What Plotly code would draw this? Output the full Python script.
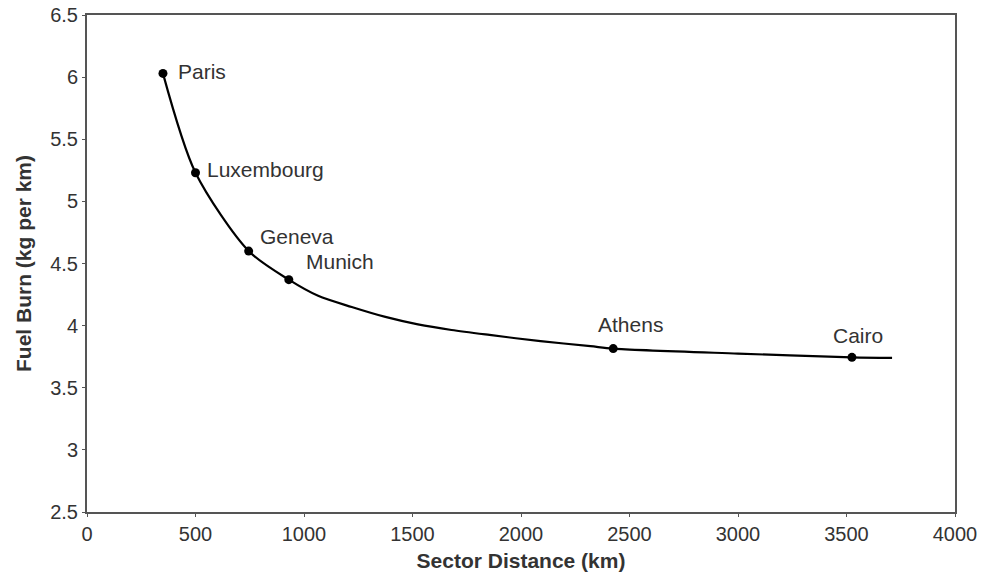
import plotly.graph_objects as go

# Airports (markers)
cities = ["Paris", "Luxembourg", "Geneva", "Munich", "Athens", "Cairo"]
distance_km = [350, 500, 745, 930, 2425, 3525]
fuel_burn = [6.03, 5.23, 4.60, 4.37, 3.815, 3.745]

# Fitted curve
curve_x = [350, 500, 745, 930, 1065, 1220, 1375, 1525, 1680, 1855, 2090, 2320, 2425, 3000, 3525, 3710]
curve_y = [6.03, 5.23, 4.60, 4.37, 4.24, 4.15, 4.07, 4.01, 3.965, 3.925, 3.875, 3.835, 3.815, 3.775, 3.745, 3.74]

x_ticks = [0, 500, 1000, 1500, 2000, 2500, 3000, 3500, 4000]
y_ticks = [2.5, 3, 3.5, 4, 4.5, 5, 5.5, 6, 6.5]
y_tick_labels = ["2.5", "3", "3.5", "4", "4.5", "5", "5.5", "6", "6.5"]

# label placement offsets (pixels) per city
label_offsets = {
    "Paris": (13, 2, "left"),
    "Luxembourg": (9, 3, "left"),
    "Geneva": (9, 15, "left"),
    "Munich": (15, 18, "left"),
    "Athens": (17, 24, "center"),
    "Cairo": (6, 22, "center"),
}

FONT = "Liberation Sans, Arial, sans-serif"
TEXT = "#333333"
FS = 21
TICK_FS = 20

fig = go.Figure()
fig.add_trace(go.Scatter(
    x=curve_x, y=curve_y, mode="lines",
    line=dict(color="black", width=2.2, shape="spline", smoothing=0.8),
    hoverinfo="skip", showlegend=False,
))
fig.add_trace(go.Scatter(
    x=distance_km, y=fuel_burn, mode="markers", text=cities,
    marker=dict(color="black", size=9),
    showlegend=False,
))

for c, xv, yv in zip(cities, distance_km, fuel_burn):
    dx, dy, anchor = label_offsets[c]
    fig.add_annotation(
        x=xv, y=yv, xref="x", yref="y", text=c, showarrow=False,
        xanchor=anchor, yanchor="middle", xshift=dx, yshift=dy,
        font=dict(family=FONT, size=FS, color=TEXT),
    )

axis_common = dict(
    showgrid=False, zeroline=False, showline=True, mirror=True,
    linecolor="#555555", linewidth=2, ticks="outside", ticklen=3,
    tickcolor="#555555", tickwidth=1, automargin=False,
    ticklabeloverflow="allow",
    tickfont=dict(family=FONT, size=TICK_FS, color=TEXT),
)

fig.update_xaxes(
    range=[0, 4000], tickvals=x_ticks, ticktext=[str(v) for v in x_ticks],
    title=dict(text="<b>Sector Distance (km)</b>", standoff=9,
               font=dict(family=FONT, size=FS, color=TEXT)),
    **axis_common,
)
fig.update_yaxes(
    range=[2.5, 6.5], tickvals=y_ticks, ticktext=y_tick_labels,
    title=dict(text="<b>Fuel Burn (kg per km)</b>", standoff=13,
               font=dict(family=FONT, size=FS, color=TEXT)),
    **axis_common,
)

fig.update_layout(
    width=981, height=584,
    margin=dict(l=87, r=26, t=15, b=72),
    paper_bgcolor="white", plot_bgcolor="white",
)

# remove the page's default body margin so the figure fills the window exactly
fig.write_html(
    "out.html",
    config={"displayModeBar": False},
    post_script="document.body.style.margin='0';",
)
